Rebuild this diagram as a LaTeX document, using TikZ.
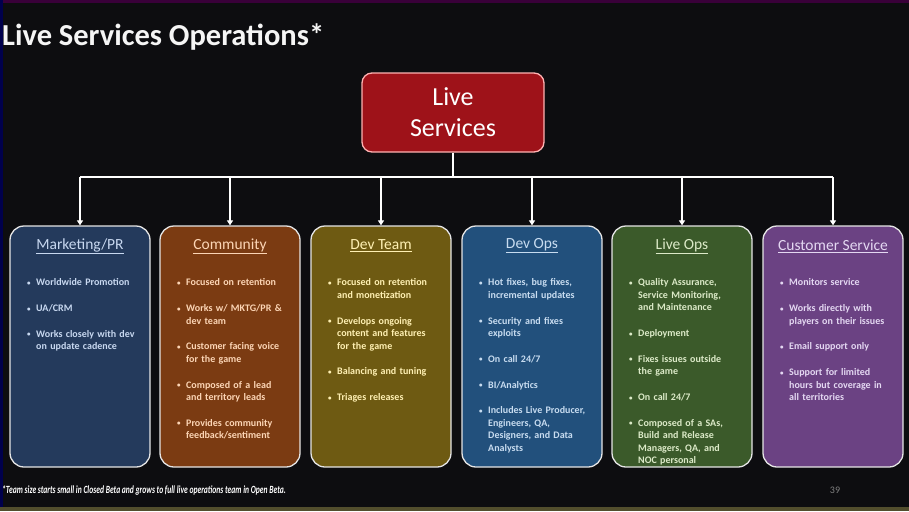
\documentclass[tikz,border=0pt]{standalone}
\usepackage{fontspec}
\setmainfont{Carlito}
\usetikzlibrary{arrows.meta,positioning}

\definecolor{bg}{HTML}{0D0D10}
\definecolor{rootred}{HTML}{9E1219}
\definecolor{mktfill}{HTML}{243A5C}
\definecolor{comfill}{HTML}{7B3B12}
\definecolor{devfill}{HTML}{6E5A12}
\definecolor{opsfill}{HTML}{22507C}
\definecolor{livfill}{HTML}{3B5A2A}
\definecolor{csfill}{HTML}{6B4283}
\definecolor{mkttext}{HTML}{C8D8F0}
\definecolor{comtext}{HTML}{FCD5B5}
\definecolor{devtext}{HTML}{FFF0B3}
\definecolor{opstext}{HTML}{C8DCF0}
\definecolor{livtext}{HTML}{DCEAC8}
\definecolor{cstext}{HTML}{E4D8F2}

\newcommand{\itm}[1]{\par\hangindent=9pt\hangafter=1\noindent
  \makebox[9pt][l]{\raisebox{0.5pt}{\scriptsize\textbullet}}#1\par}

\tikzset{
  team/.style={draw=white!80!gray, line width=1.3pt, rounded corners=14pt,
    minimum width=140pt, minimum height=241pt, inner sep=0pt},
  head/.style={font=\fontsize{15.5}{17}\selectfont, inner sep=0pt},
  items/.style={anchor=north west, text width=120pt, align=left, inner sep=0pt,
    font=\bfseries\fontsize{10}{12.5}\selectfont,
    execute at begin node={\setlength{\parskip}{13.2pt}}},
  wire/.style={white, line width=1.8pt},
  drop/.style={wire, -{Triangle[length=5pt,width=6pt]}}
}

\begin{document}
\begin{tikzpicture}[x=1pt,y=-1pt]
\useasboundingbox (0,0) rectangle (909,511);
\fill[bg] (0,0) rectangle (909,511);
\fill[violet!45!black] (0,0) rectangle (909,3);
\fill[blue!30!black] (0,0) rectangle (3,511);
\fill[olive!45!black] (0,507) rectangle (909,511);

% title
\node[anchor=west, inner sep=0pt, text=white!92!gray, font=\bfseries\fontsize{30.5}{32}\selectfont] (title) at (2,37) {Live Services Operations*};

% root
\node[draw=red!30!white, line width=1.3pt, fill=rootred, rounded corners=10pt,
  minimum width=182pt, minimum height=79pt, align=center, text=white,
  font=\fontsize{26}{31}\selectfont] (live) at (453,112.5) {Live\\Services};

% teams
\node[team, fill=mktfill] (mkt) at (80,346.5) {};
\node[team, fill=comfill] (com) at (230,346.5) {};
\node[team, fill=devfill] (dev) at (381,346.5) {};
\node[team, fill=opsfill] (ops) at (532,346.5) {};
\node[team, fill=livfill] (liv) at (682,346.5) {};
\node[team, fill=csfill] (cs) at (833,346.5) {};

% connectors
\coordinate (bus) at (453,177);
\draw[wire] (live.south) -- (bus);
\draw[wire] (bus -| mkt.north) -- (bus -| cs.north);
\draw[drop] (bus -| mkt.north) -- (mkt.north);
\draw[drop] (bus -| com.north) -- (com.north);
\draw[drop] (bus -| dev.north) -- (dev.north);
\draw[drop] (bus -| ops.north) -- (ops.north);
\draw[drop] (bus -| liv.north) -- (liv.north);
\draw[drop] (bus -| cs.north) -- (cs.north);

% headings
\node[head, text=mkttext] (mkthead) at (80,246) {\underline{Marketing/PR}};
\node[head, text=comtext] (comhead) at (230,246) {\underline{Community}};
\node[head, text=devtext] (devhead) at (381,246) {\underline{Dev Team}};
\node[head, text=opstext] (opshead) at (532,246) {\underline{Dev Ops}};
\node[head, text=livtext] (livhead) at (682,246) {\underline{Live Ops}};
\node[head, text=cstext] (cshead) at (833,246) {\underline{Customer Service}};

% bullet lists
\node[items, text=mkttext] (mktlist) at (27,260) {%
\itm{Worldwide Promotion}
\itm{UA/CRM}
\itm{Works closely with dev\newline on update cadence}};
\node[items, text=comtext] (comlist) at (177,260) {%
\itm{Focused on retention}
\itm{Works w/ MKTG/PR \&\newline dev team}
\itm{Customer facing voice\newline for the game}
\itm{Composed of a lead\newline and territory leads}
\itm{Provides community\newline feedback/sentiment}};
\node[items, text=devtext] (devlist) at (328,260) {%
\itm{Focused on retention\newline and monetization}
\itm{Develops ongoing\newline content and features\newline for the game}
\itm{Balancing and tuning}
\itm{Triages releases}};
\node[items, text=opstext] (opslist) at (479,260) {%
\itm{Hot fixes, bug fixes,\newline incremental updates}
\itm{Security and fixes\newline exploits}
\itm{On call 24/7}
\itm{BI/Analytics}
\itm{Includes Live Producer,\newline Engineers, QA,\newline Designers, and Data\newline Analysts}};
\node[items, text=livtext] (livlist) at (629,260) {%
\itm{Quality Assurance,\newline Service Monitoring,\newline and Maintenance}
\itm{Deployment}
\itm{Fixes issues outside\newline the game}
\itm{On call 24/7}
\itm{Composed of a SAs,\newline Build and Release\newline Managers, QA, and\newline NOC personal}};
\node[items, text=cstext] (cslist) at (780,260) {%
\itm{Monitors service}
\itm{Works directly with\newline players on their issues}
\itm{Email support only}
\itm{Support for limited\newline hours but coverage in\newline all territories}};

% footer
\node[anchor=west, inner sep=0pt, text=white, font=\bfseries\itshape\fontsize{11}{12}\selectfont] (note) at (2,490)
  {\scalebox{0.69}[1]{*Team size starts small in Closed Beta and grows to full live operations team in Open Beta.}};
\node[inner sep=0pt, text=gray, font=\fontsize{10}{12}\selectfont] (page) at (835,490) {39};
\end{tikzpicture}
\end{document}
